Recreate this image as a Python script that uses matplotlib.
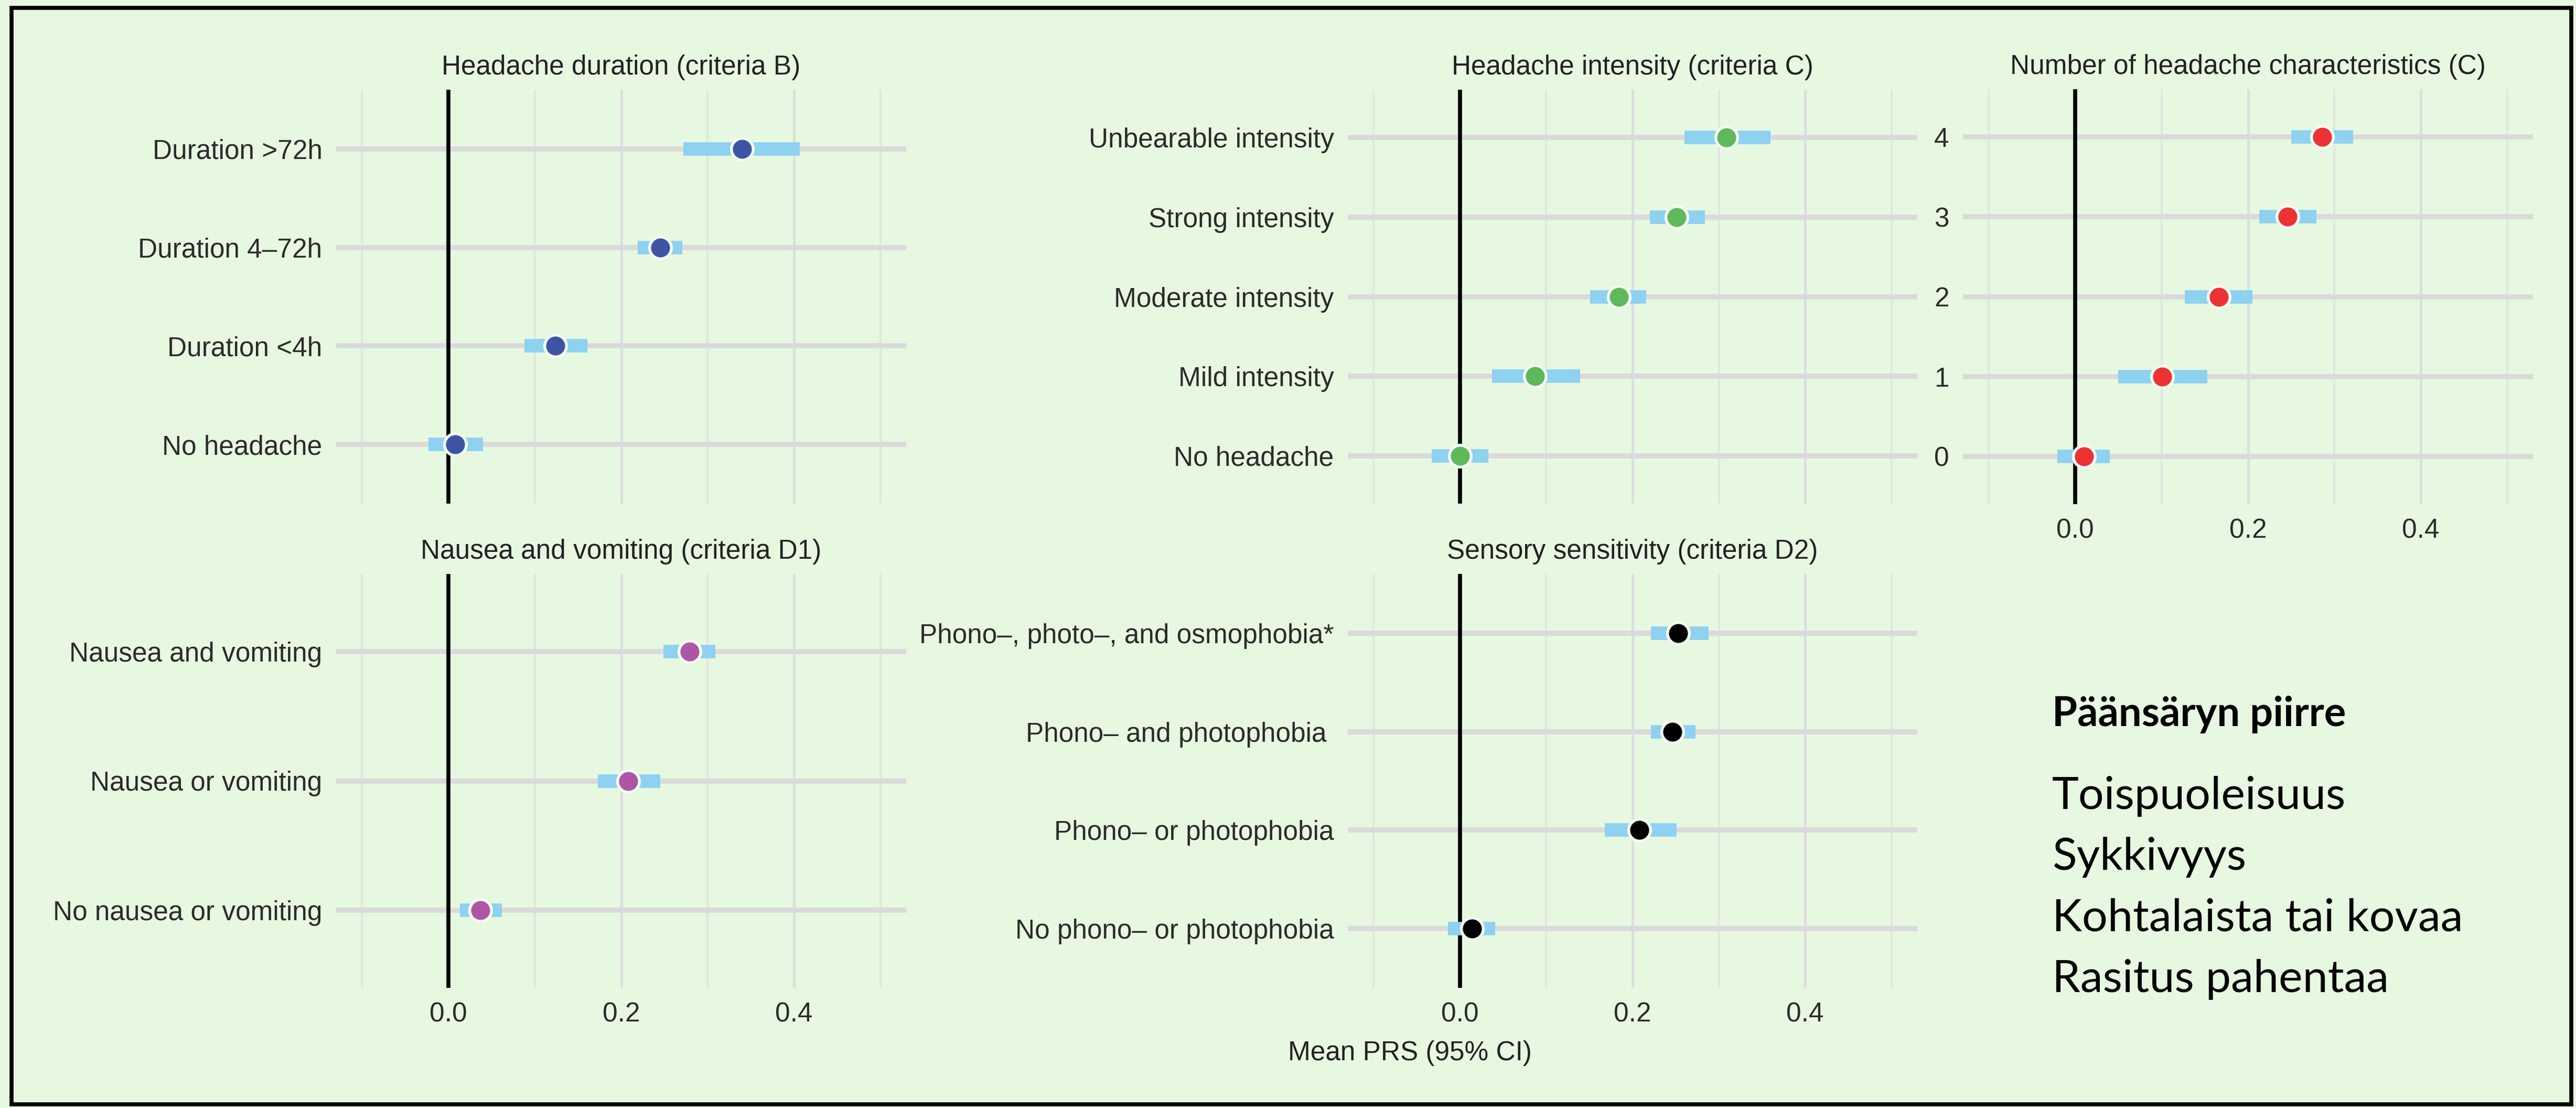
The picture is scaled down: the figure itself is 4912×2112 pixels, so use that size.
import numpy as np
import matplotlib
matplotlib.use("Agg")
import matplotlib.pyplot as plt
from matplotlib.patches import Rectangle

W, H = 4912, 2112
BG = "#E6F8E0"
CI_COL = "#8ED1F1"

# Panel data (top row first)
dur_labels = ["Duration >72h", "Duration 4\u201372h", "Duration <4h", "No headache"]
dur_mean = [0.340, 0.245, 0.124, 0.008]
dur_low = [0.272, 0.219, 0.088, -0.023]
dur_high = [0.407, 0.271, 0.161, 0.040]

int_labels = ["Unbearable intensity", "Strong intensity", "Moderate intensity",
              "Mild intensity", "No headache"]
int_mean = [0.309, 0.251, 0.184, 0.087, 0.0]
int_low = [0.260, 0.220, 0.151, 0.037, -0.033]
int_high = [0.360, 0.284, 0.216, 0.139, 0.033]

num_labels = ["4", "3", "2", "1", "0"]
num_mean = [0.286, 0.246, 0.166, 0.101, 0.010]
num_low = [0.250, 0.213, 0.127, 0.050, -0.021]
num_high = [0.322, 0.279, 0.205, 0.153, 0.040]

nau_labels = ["Nausea and vomiting", "Nausea or vomiting", "No nausea or vomiting"]
nau_mean = [0.279, 0.208, 0.037]
nau_low = [0.249, 0.173, 0.013]
nau_high = [0.309, 0.245, 0.062]

sen_labels = ["Phono\u2013, photo\u2013, and osmophobia*", "Phono\u2013 and photophobia ",
              "Phono\u2013 or photophobia", "No phono\u2013 or photophobia"]
sen_mean = [0.253, 0.246, 0.208, 0.014]
sen_low = [0.221, 0.221, 0.168, -0.014]
sen_high = [0.288, 0.273, 0.251, 0.041]

side_title = "Päänsäryn piirre"
side_items = ["Toispuoleisuus", "Sykkivyys", "Kohtalaista tai kovaa", "Rasitus pahentaa"]

plt.rcParams["font.family"] = ["Liberation Sans", "DejaVu Sans"]

fig = plt.figure(figsize=(W / 100, H / 100), dpi=100)
fig.patch.set_facecolor(BG)
fig.patches.append(Rectangle((22 / W, 1 - 2105 / H), (4903 - 22) / W, (2105 - 15) / H,
                             transform=fig.transFigure, fill=False, ec="black", lw=5.5))


def panel(box, title, labels, mean, low, high, color, show_x=False):
    x0, y0, x1, y1 = box
    ax = fig.add_axes([x0 / W, 1 - y1 / H, (x1 - x0) / W, (y1 - y0) / H])
    ax.set_facecolor("none")
    n = len(labels)
    ypos = np.arange(n, 0, -1)
    ax.set_xlim(-0.13, 0.53)
    ax.set_ylim(0.4, n + 0.6)
    ax.set_xticks([0.0, 0.2, 0.4])
    ax.set_xticklabels(["0.0", "0.2", "0.4"])
    ax.set_xticks([-0.1, 0.1, 0.3, 0.5], minor=True)
    ax.set_yticks(ypos)
    ax.set_yticklabels(labels)
    ax.grid(axis="x", which="major", color="#DEDEDE", lw=3.6)
    ax.grid(axis="x", which="minor", color="#E2E6E0", lw=2.9)
    ax.grid(axis="y", which="major", color="#DADADA", lw=7)
    ax.set_axisbelow(True)
    for s in ax.spines.values():
        s.set_visible(False)
    ax.tick_params(which="both", length=0, pad=19, labelsize=37, labelcolor="#2B2B2B")
    ax.tick_params(axis="x", labelbottom=show_x)
    ax.axvline(0, color="black", lw=5.5, zorder=2)
    ax.hlines(ypos, low, high, color=CI_COL, lw=18.5, zorder=3, capstyle="butt")
    ax.plot(mean, ypos, "o", ms=30, mfc=color, mec="#F3FBF0", mew=4, ls="none", zorder=4)
    ax.set_title(title, fontsize=37, pad=21, color="#222222")
    return ax


panel((641, 171, 1728, 960), "Headache duration (criteria B)",
      dur_labels, dur_mean, dur_low, dur_high, "#3E55A6")
panel((2570, 171, 3656, 960), "Headache intensity (criteria C)",
      int_labels, int_mean, int_low, int_high, "#5DB95A")
panel((3743, 170, 4830, 961), "Number of headache characteristics (C)",
      num_labels, num_mean, num_low, num_high, "#EC3232", show_x=True)
panel((641, 1094, 1728, 1883), "Nausea and vomiting (criteria D1)",
      nau_labels, nau_mean, nau_low, nau_high, "#B055A6", show_x=True)
panel((2570, 1094, 3656, 1883), "Sensory sensitivity (criteria D2)",
      sen_labels, sen_mean, sen_low, sen_high, "black", show_x=True)

fig.text(2688 / W, 1 - 2007 / H, "Mean PRS (95% CI)", ha="center", va="center",
         fontsize=37, color="#222222")

fig.text(3913 / W, 1 - 1384 / H, side_title, family="Lato", fontweight="bold",
         fontsize=56, va="baseline", color="black")
for i, item in enumerate(side_items):
    fig.text(3913 / W, 1 - (1542 + 116.3 * i) / H, item, family="Lato",
             fontsize=62, va="baseline", color="black")

fig.savefig("out.png", dpi=100, facecolor=BG)
